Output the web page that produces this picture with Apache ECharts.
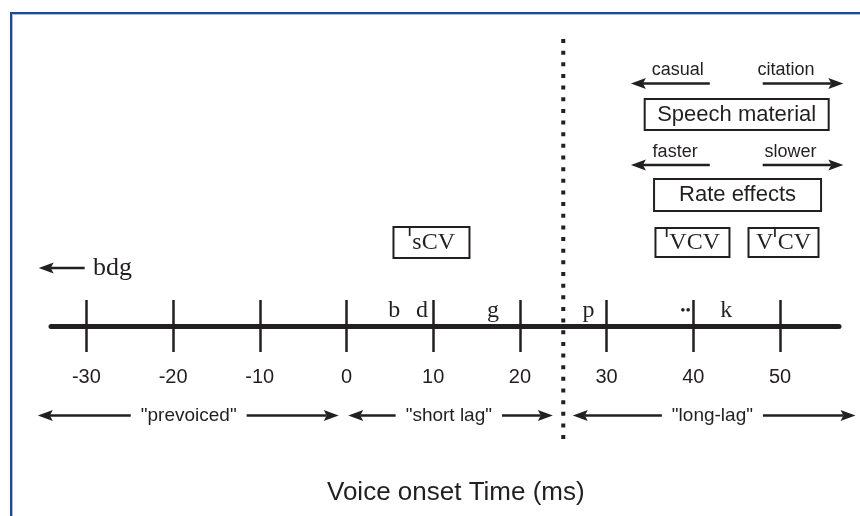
<!DOCTYPE html>
<html>
<head>
<meta charset="utf-8">
<script src="https://cdn.jsdelivr.net/npm/echarts@6/dist/echarts.min.js"></script>
<style>
  html, body { margin: 0; padding: 0; background: #fff; }
  #wrap { position: relative; width: 860px; height: 516px; overflow: hidden; }
  #main { width: 860px; height: 516px; }
  #frame {
    position: absolute; left: 10px; top: 12px; right: -20px; bottom: -20px;
    border-left: 2px solid #1e4b8e; border-top: 2px solid #1e4b8e;
    box-shadow: inset 1px 1px 0 #a6bfe0; pointer-events: none;
  }
</style>
</head>
<body>
<div id="wrap">
  <div id="main"></div>
  <div id="frame"></div>
</div>
<script>
// VOT axis
const ticks = [-30, -20, -10, 0, 10, 20, 30, 40, 50];
const xMin = -34.08;
const xMax = 56.8;

// consonants placed along the VOT line
const consonants = ['b', 'd', 'g', 'p', '••', 'k'];
const consonantVot = [5.5, 8.7, 16.9, 27.9, 39.1, 43.8];
const voicingBoundary = 25;

// category ranges under the axis
const regionNames = ['"prevoiced"', '"short lag"', '"long-lag"'];
const regionStart = [-35.6, 0.2, 26.1];
const regionEnd = [-0.9, 23.8, 58.7];
const regionLabelAt = [-18.2, 11.8, 42.2];

// effect direction arrows (top right)
const effectNames = ['casual', 'citation', 'faster', 'slower'];
const effectLabelAt = [38.2, 50.7, 37.9, 51.2];
const effectArrowFrom = [41.9, 48.0, 41.9, 48.0];
const effectArrowTo = [32.8, 57.3, 32.8, 57.3];

// boxed labels ({st|I} is the stress mark)
const boxNames = ['{st|I}sCV', 'Speech material', 'Rate effects', '{st|I}VCV', 'V{st|I}CV'];
const boxAt = [9.8, 45.0, 45.1, 39.9, 50.4];

// bdg note
const bdgLabelAt = -27.0;
const bdgArrow = [-30.2, -35.5];

const INK = '#231f20';
const SANS = 'Liberation Sans, Arial, sans-serif';
const SERIF = 'Liberation Serif, DejaVu Serif, serif';

// vertical rows (pixels above the VOT line)
const ROW = {
  casualText: 256, casualArrow: 242.5, speech: 211.5,
  fasterText: 173.5, fasterArrow: 161, rate: 131,
  boxes: 83.5, bdg: 58, letters: 15, regions: -89.5,
  dotsTop: 287, dotsBottom: -113
};

const arrowData = [[bdgArrow[0], bdgArrow[1], ROW.bdg, 1]];
effectNames.forEach((n, i) => {
  arrowData.push([effectArrowFrom[i], effectArrowTo[i], i < 2 ? ROW.casualArrow : ROW.fasterArrow, 1]);
});
regionNames.forEach((n, i) => {
  arrowData.push([regionStart[i], regionEnd[i], ROW.regions, 2]);
});

function arrowHead(tip, d) {
  const L = 15, W = 5.5, N = 3;
  return {
    type: 'polygon',
    shape: { points: [[tip[0], tip[1]], [tip[0] - d * L, tip[1] - W], [tip[0] - d * (L - N), tip[1]], [tip[0] - d * L, tip[1] + W]] },
    style: { fill: INK }
  };
}

function renderArrow(params, api) {
  const y = api.value(2);
  const p0 = api.coord([api.value(0), y]);
  const p1 = api.coord([api.value(1), y]);
  const both = api.value(3) === 2;
  const dir = p1[0] > p0[0] ? 1 : -1;
  const children = [{
    type: 'line',
    shape: { x1: both ? p0[0] + dir * 12 : p0[0], y1: p0[1], x2: p1[0] - dir * 12, y2: p1[1] },
    style: { stroke: INK, lineWidth: 2.5 }
  }, arrowHead(p1, dir)];
  if (both) children.push(arrowHead(p0, -dir));
  return { type: 'group', children: children };
}

const boxSizes = [[76, 31], [184, 31], [167, 32], [74, 29], [70, 29]];
const boxFonts = [SERIF, SANS, SANS, SERIF, SERIF];
const boxRows = [ROW.boxes, ROW.speech, ROW.rate, ROW.boxes, ROW.boxes];

const textSeries = (name, data, label, z) => ({
  name: name,
  type: 'scatter',
  symbolSize: 0,
  silent: true,
  clip: false,
  itemStyle: { opacity: 1 },
  data: data,
  label: Object.assign({ show: true, position: 'inside', formatter: '{b}', color: INK }, label),
  z: z || 5
});

const chart = echarts.init(document.getElementById('main'));
chart.setOption({
  animation: false,
  backgroundColor: '#fff',
  title: {
    text: 'Voice onset Time (ms)',
    left: 322, top: 475,
    textStyle: { color: INK, fontSize: 26, fontWeight: 'normal', fontFamily: SANS }
  },
  grid: { left: 51, right: 21, top: 0, bottom: 0, outerBoundsMode: 'none', containLabel: false },
  xAxis: [{
    type: 'value', min: xMin, max: xMax, position: 'bottom', offset: -190,
    axisLine: { onZero: false, lineStyle: { color: INK, width: 5 } },
    axisTick: { customValues: ticks, length: 26, lineStyle: { color: INK, width: 2.5 } },
    axisLabel: { customValues: ticks, margin: 41, color: INK, fontSize: 20, fontFamily: SANS },
    splitLine: { show: false }
  }, {
    type: 'value', min: xMin, max: xMax, position: 'bottom', offset: -190,
    axisLine: { show: false, onZero: false },
    axisTick: { inside: true, customValues: ticks, length: 26, lineStyle: { color: INK, width: 2.5 } },
    axisLabel: { show: false },
    splitLine: { show: false }
  }],
  yAxis: { type: 'value', min: -190, max: 326, show: false },
  series: [{
    name: 'boundary',
    type: 'line',
    data: [[voicingBoundary, ROW.dotsTop], [voicingBoundary, ROW.dotsBottom]],
    symbol: 'none',
    silent: true,
    lineStyle: { color: INK, width: 4, type: [4, 7.65], cap: 'butt' },
    z: 3
  }, {
    name: 'arrows',
    type: 'custom',
    renderItem: renderArrow,
    data: arrowData,
    silent: true,
    z: 3
  },
  textSeries('consonants', consonants.map((c, i) => ({
    name: c, value: [consonantVot[i], ROW.letters],
    label: c === '••' ? { fontSize: 15 } : {}
  })), { fontSize: 24, fontFamily: SERIF }),
  textSeries('effects', effectNames.map((n, i) => ({
    name: n, value: [effectLabelAt[i], i < 2 ? ROW.casualText : ROW.fasterText]
  })), { fontSize: 18, fontFamily: SANS }),
  textSeries('bdg', [{ name: 'bdg', value: [bdgLabelAt, ROW.bdg] }], { fontSize: 26, fontFamily: SERIF }),
  textSeries('regions', regionNames.map((n, i) => ({
    name: n, value: [regionLabelAt[i], ROW.regions]
  })), { fontSize: 19, fontFamily: SANS, backgroundColor: '#fff', padding: [2, 10] }, 6),
  textSeries('boxes', boxNames.map((n, i) => ({
    name: n, value: [boxAt[i], boxRows[i]],
    label: {
      width: boxSizes[i][0], height: boxSizes[i][1], lineHeight: boxSizes[i][1],
      fontFamily: boxFonts[i], fontSize: boxFonts[i] === SERIF ? 24 : 22
    }
  })), {
    align: 'center', verticalAlign: 'middle', borderColor: INK, borderWidth: 2, padding: 0,
    rich: {
      st: { fontFamily: SANS, fontWeight: 'bold', fontSize: 12, lineHeight: 22, verticalAlign: 'top', color: INK, padding: [0, 1, 0, 0] }
    }
  })]
});
</script>
</body>
</html>
